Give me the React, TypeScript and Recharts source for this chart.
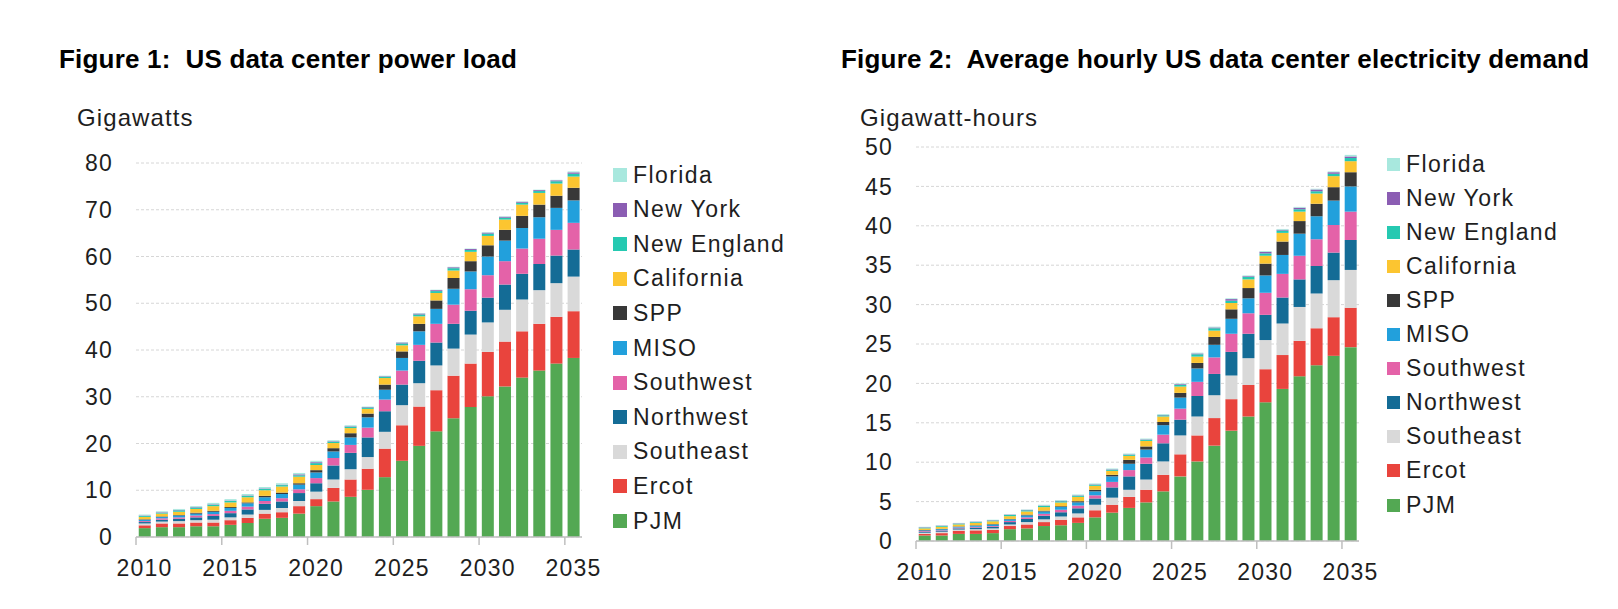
import React from "react"
import { BarChart, Bar, XAxis, YAxis, CartesianGrid } from "recharts"

const years = [
  2010, 2011, 2012, 2013, 2014, 2015, 2016, 2017, 2018, 2019, 2020, 2021, 2022,
  2023, 2024, 2025, 2026, 2027, 2028, 2029, 2030, 2031, 2032, 2033, 2034, 2035,
]

// stacking order, bottom first (legend shows it reversed)
const seriesNames = [
  "PJM", "Ercot", "Southeast", "Northwest", "Southwest", "MISO",
  "SPP", "California", "New England", "New York", "Florida",
]
const seriesColors = [
  "#53a853", "#e9443d", "#d9d9d9", "#146c96", "#e462a8", "#22a0dc",
  "#383838", "#fcc530", "#25c9b1", "#8b5db3", "#a8e8de",
]

// Figure 1: power load, gigawatts
const loadPJM = [1.9, 2.1, 2.1, 2.3, 2.3, 2.6, 3.0, 3.9, 4.1, 5.0, 6.6, 7.6, 8.6, 10.1, 12.8, 16.3, 19.5, 22.6, 25.4, 27.8, 30.1, 32.2, 34.1, 35.6, 37.1, 38.3]
const loadErcot = [0.6, 0.8, 0.8, 0.8, 0.8, 1.0, 1.1, 1.1, 1.2, 1.6, 1.5, 2.9, 3.7, 4.5, 6.1, 7.6, 8.4, 8.8, 9.1, 9.3, 9.5, 9.6, 9.9, 10.0, 10.0, 10.0]
const loadSoutheast = [0.4, 0.4, 0.5, 0.5, 0.6, 0.6, 0.7, 0.8, 0.9, 1.1, 1.6, 1.8, 2.2, 2.5, 3.6, 4.3, 5.0, 5.3, 5.8, 6.2, 6.3, 6.8, 6.8, 7.2, 7.2, 7.4]
const loadNorthwest = [0.3, 0.4, 0.5, 0.6, 0.8, 0.9, 1.1, 1.3, 1.4, 1.7, 1.8, 3.0, 3.5, 4.2, 4.4, 4.4, 4.8, 4.9, 5.3, 5.1, 5.3, 5.4, 5.5, 5.6, 5.9, 5.8]
const loadSouthwest = [0.2, 0.3, 0.3, 0.4, 0.4, 0.5, 0.6, 0.6, 0.7, 0.8, 1.1, 1.6, 1.7, 2.1, 2.5, 3.0, 3.4, 4.0, 4.1, 4.6, 4.8, 5.0, 5.4, 5.4, 5.5, 5.7]
const loadMISO = [0.3, 0.3, 0.4, 0.4, 0.5, 0.6, 0.7, 0.8, 0.9, 1.0, 1.2, 1.4, 1.6, 2.2, 2.1, 2.7, 2.9, 3.2, 3.4, 3.8, 4.0, 4.4, 4.4, 4.6, 4.7, 4.8]
const loadSPP = [0.1, 0.1, 0.1, 0.2, 0.2, 0.2, 0.2, 0.3, 0.3, 0.3, 0.5, 0.7, 0.9, 0.8, 1.1, 1.4, 1.6, 1.8, 2.3, 2.2, 2.4, 2.3, 2.6, 2.7, 2.6, 2.7]
const loadCalifornia = [0.5, 0.6, 0.7, 0.8, 1.0, 1.0, 1.1, 1.2, 1.3, 1.4, 1.1, 1.1, 1.1, 1.0, 1.4, 1.3, 1.6, 1.6, 1.6, 2.0, 2.0, 2.2, 2.4, 2.5, 2.6, 2.4]
const loadNewEngland = [0.2, 0.2, 0.3, 0.3, 0.3, 0.3, 0.3, 0.3, 0.3, 0.3, 0.4, 0.3, 0.3, 0.3, 0.3, 0.4, 0.4, 0.4, 0.5, 0.4, 0.5, 0.4, 0.4, 0.4, 0.5, 0.6]
const loadNewYork = [0.1, 0.1, 0.1, 0.1, 0.1, 0.1, 0.1, 0.1, 0.1, 0.2, 0.2, 0.1, 0.1, 0.1, 0.1, 0.2, 0.2, 0.2, 0.2, 0.2, 0.2, 0.2, 0.2, 0.2, 0.2, 0.3]
const loadFlorida = [0.2, 0.2, 0.2, 0.2, 0.3, 0.3, 0.3, 0.3, 0.3, 0.3, 0.3, 0.2, 0.2, 0.1, 0.1, 0.1, 0.1, 0.1, 0.1, 0.1, 0.1, 0.1, 0.1, 0.1, 0.1, 0.2]

// Figure 2: average hourly demand, gigawatt-hours
const hourlyPJM = [0.7, 0.7, 0.9, 0.9, 1.0, 1.5, 1.6, 1.9, 2.0, 2.3, 3.0, 3.6, 4.2, 4.9, 6.3, 8.2, 10.1, 12.1, 14.0, 15.8, 17.6, 19.3, 20.9, 22.3, 23.5, 24.6]
const hourlyErcot = [0.2, 0.3, 0.4, 0.45, 0.4, 0.4, 0.5, 0.5, 0.7, 0.7, 0.9, 1.0, 1.4, 1.6, 2.1, 2.8, 3.3, 3.5, 4.0, 4.0, 4.2, 4.3, 4.5, 4.7, 4.9, 5.0]
const hourlySoutheast = [0.15, 0.15, 0.15, 0.15, 0.2, 0.2, 0.3, 0.35, 0.4, 0.5, 0.7, 0.9, 0.9, 1.3, 1.7, 2.4, 2.4, 2.9, 3.0, 3.4, 3.7, 4.0, 4.3, 4.4, 4.7, 4.8]
const hourlyNorthwest = [0.1, 0.1, 0.15, 0.2, 0.2, 0.3, 0.4, 0.45, 0.55, 0.65, 0.8, 1.3, 1.7, 2.0, 2.3, 2.0, 2.6, 2.7, 3.0, 3.1, 3.2, 3.3, 3.5, 3.5, 3.5, 3.8]
const hourlySouthwest = [0.1, 0.1, 0.1, 0.1, 0.1, 0.15, 0.2, 0.25, 0.3, 0.35, 0.4, 0.7, 0.8, 0.8, 1.1, 1.4, 1.8, 2.1, 2.3, 2.6, 2.8, 3.0, 3.0, 3.4, 3.5, 3.6]
const hourlyMISO = [0.1, 0.15, 0.1, 0.15, 0.2, 0.2, 0.25, 0.3, 0.35, 0.4, 0.5, 0.7, 0.8, 1.0, 1.2, 1.4, 1.7, 1.6, 1.9, 1.9, 2.2, 2.4, 2.8, 2.9, 3.1, 3.2]
const hourlySPP = [0.05, 0.05, 0.05, 0.05, 0.05, 0.05, 0.1, 0.1, 0.1, 0.15, 0.2, 0.2, 0.5, 0.4, 0.4, 0.6, 0.7, 1.0, 1.2, 1.3, 1.5, 1.7, 1.6, 1.6, 1.7, 1.8]
const hourlyCalifornia = [0.2, 0.25, 0.25, 0.3, 0.35, 0.35, 0.4, 0.45, 0.5, 0.55, 0.5, 0.5, 0.5, 0.7, 0.7, 0.8, 0.8, 0.8, 0.8, 1.1, 1.0, 1.1, 1.2, 1.3, 1.4, 1.4]
const hourlyNewEngland = [0.1, 0.1, 0.1, 0.1, 0.1, 0.15, 0.15, 0.15, 0.15, 0.15, 0.15, 0.15, 0.15, 0.15, 0.15, 0.2, 0.3, 0.3, 0.3, 0.3, 0.3, 0.3, 0.3, 0.3, 0.3, 0.4]
const hourlyNewYork = [0.05, 0.05, 0.05, 0.05, 0.05, 0.05, 0.05, 0.05, 0.05, 0.05, 0.05, 0.05, 0.05, 0.05, 0.05, 0.1, 0.1, 0.1, 0.2, 0.1, 0.2, 0.1, 0.2, 0.2, 0.2, 0.2]
const hourlyFlorida = [0.05, 0.05, 0.05, 0.05, 0.05, 0.05, 0.05, 0.1, 0.1, 0.1, 0.1, 0.1, 0.1, 0.1, 0.1, 0.1, 0.1, 0.1, 0.1, 0.1, 0.1, 0.1, 0.1, 0.1, 0.1, 0.2]

const loadTicks = [0, 10, 20, 30, 40, 50, 60, 70, 80]
const hourlyTicks = [0, 5, 10, 15, 20, 25, 30, 35, 40, 45, 50]

const loadSeries = [loadPJM, loadErcot, loadSoutheast, loadNorthwest, loadSouthwest, loadMISO, loadSPP, loadCalifornia, loadNewEngland, loadNewYork, loadFlorida]
const hourlySeries = [hourlyPJM, hourlyErcot, hourlySoutheast, hourlyNorthwest, hourlySouthwest, hourlyMISO, hourlySPP, hourlyCalifornia, hourlyNewEngland, hourlyNewYork, hourlyFlorida]

const FONT = "'Liberation Sans', Arial, Helvetica, sans-serif"
const AXIS_GREY = "#bfbfbf"
const TEXT = "#1e1e1e"

function buildRows(series: number[][]) {
  return years.map((year, i) => {
    const row: Record<string, number> = { year }
    seriesNames.forEach((name, k) => {
      row[name] = series[k][i]
    })
    return row
  })
}

// tick mark on the left edge of the category, label under the bar
function YearTick(props: any) {
  const { x, y, payload } = props
  const half = payload && payload.offset ? payload.offset : 8.5
  return (
    <g>
      <line x1={x - half} x2={x - half} y1={y} y2={y + 8} stroke={AXIS_GREY} strokeWidth={1.5} />
      <text x={x} y={y + 39} textAnchor="middle" fontSize={23} fontFamily={FONT} fill={TEXT} letterSpacing={1.2}>
        {payload.value}
      </text>
    </g>
  )
}

type PanelProps = {
  left: number
  width: number
  rows: Record<string, number>[]
  ticks: number[]
  margin: { top: number; right: number; bottom: number; left: number }
  axisWidth: number
  title: string
  titleX: number
  unit: string
  unitX: number
  legendX: number
  legendY: number
  legendStep: number
  swatch: number
}

function Panel(p: PanelProps) {
  const max = p.ticks[p.ticks.length - 1]
  return (
    <div style={{ position: "absolute", left: p.left, top: 0, width: p.width, height: 609 }}>
      <div
        style={{
          position: "absolute", left: p.titleX, top: 46, fontFamily: FONT, fontWeight: "bold",
          fontSize: 26, lineHeight: 1, whiteSpace: "pre", color: "#000", letterSpacing: 0.2,
        }}
      >
        {p.title}
      </div>
      <div
        style={{
          position: "absolute", left: p.unitX, top: 106, fontFamily: FONT, fontSize: 24,
          lineHeight: 1, whiteSpace: "pre", color: TEXT, letterSpacing: 1.1,
        }}
      >
        {p.unit}
      </div>

      <BarChart width={p.width} height={609} data={p.rows} margin={p.margin} barCategoryGap="16%">
        <CartesianGrid vertical={false} stroke="#d6d6d6" strokeDasharray="3 2" />
        <XAxis
          dataKey="year"
          interval={4}
          height={40}
          tickLine={false}
          tickSize={0}
          tickMargin={0}
          axisLine={{ stroke: AXIS_GREY, strokeWidth: 1.5 }}
          tick={<YearTick />}
        />
        <YAxis
          type="number"
          width={p.axisWidth}
          domain={[0, max]}
          ticks={p.ticks}
          interval={0}
          axisLine={false}
          tickLine={false}
          tickSize={0}
          tickMargin={23}
          tick={{ fontSize: 23, fill: TEXT, fontFamily: FONT, letterSpacing: 1.2 }}
        />
        {seriesNames.map((name, k) => (
          <Bar key={name} dataKey={name} stackId="s" fill={seriesColors[k]} isAnimationActive={false} />
        ))}
      </BarChart>

      {seriesNames
        .map((name, k) => ({ name, color: seriesColors[k] }))
        .reverse()
        .map((item, i) => (
          <div
            key={item.name}
            style={{
              position: "absolute", left: p.legendX, top: p.legendY + i * p.legendStep - 17,
              height: 34, display: "flex", alignItems: "center", whiteSpace: "pre",
            }}
          >
            <span style={{ width: p.swatch, height: p.swatch, background: item.color, marginRight: 6, display: "inline-block" }} />
            <span style={{ fontFamily: FONT, fontSize: 23, lineHeight: 1, color: TEXT, letterSpacing: 1.4 }}>{item.name}</span>
          </div>
        ))}
    </div>
  )
}

export default function App() {
  const loadRows = buildRows(loadSeries)
  const hourlyRows = buildRows(hourlySeries)
  return (
    <div style={{ position: "absolute", left: 0, top: 0, width: 1618, height: 609, background: "#fff", overflow: "hidden" }}>
      <Panel
        left={0}
        width={800}
        rows={loadRows}
        ticks={loadTicks}
        margin={{ top: 163, right: 218, bottom: 32, left: 0 }}
        axisWidth={136}
        title="Figure 1:  US data center power load"
        titleX={59}
        unit="Gigawatts"
        unitX={77}
        legendX={613}
        legendY={175}
        legendStep={34.6}
        swatch={14}
      />
      <Panel
        left={800}
        width={818}
        rows={hourlyRows}
        ticks={hourlyTicks}
        margin={{ top: 147, right: 259, bottom: 28, left: 0 }}
        axisWidth={116}
        title="Figure 2:  Average hourly US data center electricity demand"
        titleX={41}
        unit="Gigawatt-hours"
        unitX={60}
        legendX={587}
        legendY={164}
        legendStep={34.1}
        swatch={13}
      />
    </div>
  )
}
